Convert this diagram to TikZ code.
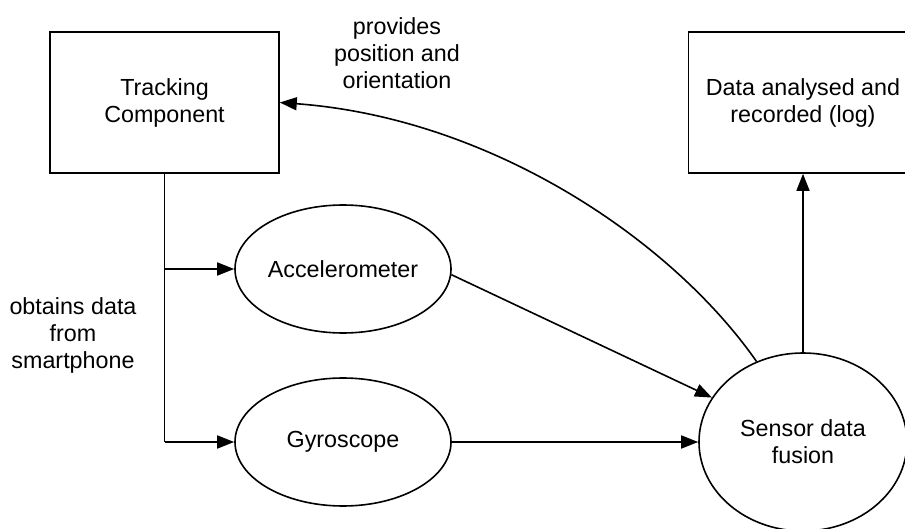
\documentclass[tikz,border=0pt]{standalone}
\usepackage{fontspec}
\setmainfont{Liberation Sans}
\usetikzlibrary{arrows.meta,shapes.geometric}
\begin{document}
\begin{tikzpicture}[x=1pt,y=-1pt,
  every node/.style={font=\fontsize{23.3}{27}\selectfont, align=center, inner sep=0pt},
  box/.style={draw, line width=1.6pt, minimum width=229pt, minimum height=141pt},
  oval/.style={draw, ellipse, line width=1.6pt},
  conn/.style={line width=1.6pt, -{Triangle[length=17pt,width=13pt]}},
  plain/.style={line width=1.6pt}]
  \useasboundingbox (0,0) rectangle (905,529);
  \clip (0,0) rectangle (905,529);

  % boxes
  \node[box] (track) at (164.5,102.5) {Tracking\\Component};
  \node[box] (data) at (803,102.5) {Data analysed and\\recorded (log)};

  % sensors
  \node[oval, minimum width=216pt, minimum height=128pt] (acc) at (343,269) {Accelerometer};
  \node[oval, minimum width=216pt, minimum height=128pt] (gyro) at (343,442) {Gyroscope};
  \node[oval, minimum width=208pt, minimum height=178pt] (fusion) at (803,442) {Sensor data\\fusion};

  % labels
  \node (obtain) at (73,335) {obtains data\\from\\smartphone};
  \node (provide) at (397,53) {provides\\position and\\orientation};

  % tracking component feeds the sensors
  \coordinate (split) at (track.south |- acc.west);
  \draw[plain] (track.south) -- (track.south |- gyro.west);
  \draw[conn] (split) -- (acc.west);
  \draw[conn] (track.south |- gyro.west) -- (gyro.west);

  % sensors into fusion
  \draw[conn] (acc.-3.7) -- (fusion.154.2);
  \draw[conn] (gyro.east) -- (fusion.west);

  % fusion outputs
  \draw[conn] (fusion.north) -- (data.south);
  \draw[conn] (fusion.120) .. controls (671,239) and (490,118) .. (track.east);
\end{tikzpicture}
\end{document}
